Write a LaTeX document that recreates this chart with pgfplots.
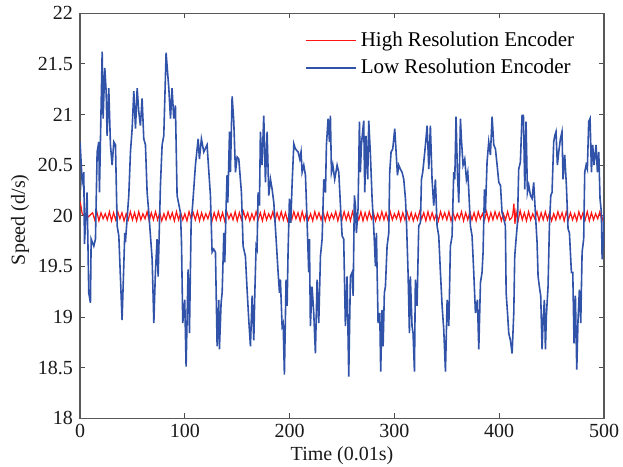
\documentclass[border=0pt]{standalone}
\usepackage{fontspec}
\setmainfont{Liberation Serif}
\usepackage{pgfplots}
\pgfplotsset{compat=1.18}
\definecolor{hired}{RGB}{255,20,20}
\definecolor{loblue}{RGB}{48,82,168}
\begin{document}
\fontsize{10}{12}\selectfont
\begin{tikzpicture}
\begin{axis}[
  scale only axis, width=262pt, height=202.5pt,
  xmin=0, xmax=500, ymin=18, ymax=22,
  xtick={0,100,200,300,400,500},
  ytick={18,18.5,19,19.5,20,20.5,21,21.5,22},
  yticklabels={18,18.5,19,19.5,20,20.5,21,21.5,22},
  /pgf/number format/assume math mode=true,
  tick align=inside, major tick length=2.5pt,
  tick style={black!70, line width=0.5pt},
  axis line style={black!65, line width=0.6pt},
  ticklabel style={font=\fontsize{10}{12}\selectfont, black!90},
  xticklabel style={yshift=0.5pt, inner xsep=2pt},
  label style={font=\fontsize{10}{12}\selectfont, black!90},
  xlabel={Time (0.01s)}, ylabel={Speed (d/s)},
  xlabel style={at={(rel axis cs:0.5,0)}, anchor=center, yshift=-18.5pt, inner sep=1pt},
  ylabel style={at={(rel axis cs:0,0.49)}, anchor=center, yshift=30pt, inner xsep=0pt, inner ysep=5.5pt},
  legend style={draw=none, fill=none, at={(0.963,0.975)}, anchor=north east,
    row sep=1pt, font=\fontsize{10.5}{12}\selectfont},
  legend cell align=left,
  legend image code/.code={\draw[#1] (0pt,0pt) -- (25pt,0pt);},
]
\addplot[hired, line width=0.6pt] coordinates {
(0,20.14)(1,20.09)(2,20.02)(4,20.00)(6,20.01)(8,19.99)(10,20.01)
(12,20.03)(14,19.96)(16,20.04)(18,19.95)(20,20.03)(22,19.97)(24,20.02)(26,19.96)(28,20.04)(30,19.95)
(32,20.03)(34,19.96)(36,20.04)(38,19.97)(40,20.03)(42,19.95)(44,20.02)(46,19.96)(48,20.04)(50,19.96)
(52,20.03)(54,19.95)(56,20.04)(58,19.96)(60,20.02)(62,19.97)(64,20.04)(66,19.95)(68,20.03)(70,19.96)
(72,20.04)(74,19.96)(76,20.03)(78,19.95)(80,20.02)(82,19.96)(84,20.04)(86,19.97)(88,20.03)(90,19.95)
(92,20.04)(94,19.96)(96,20.03)(98,19.96)(100,20.02)(102,19.95)(104,20.04)(106,19.97)(108,20.03)(110,19.96)
(112,20.04)(114,19.95)(116,20.03)(118,19.96)(120,20.02)(122,19.97)(124,20.04)(126,19.95)(128,20.03)(130,19.96)
(132,20.04)(134,19.96)(136,20.03)(138,19.95)(140,20.04)(142,19.97)(144,20.02)(146,19.96)(148,20.04)(150,19.95)
(152,20.03)(154,19.96)(156,20.04)(158,19.97)(160,20.03)(162,19.95)(164,20.02)(166,19.96)(168,20.04)(170,19.96)
(172,20.03)(174,19.95)(176,20.04)(178,19.96)(180,20.02)(182,19.97)(184,20.04)(186,19.95)(188,20.03)(190,19.96)
(192,20.04)(194,19.96)(196,20.03)(198,19.95)(200,20.02)(202,19.96)(204,20.04)(206,19.97)(208,20.03)(210,19.95)
(212,20.04)(214,19.96)(216,20.03)(218,19.96)(220,20.02)(222,19.95)(224,20.04)(226,19.97)(228,20.03)(230,19.96)
(232,20.04)(234,19.95)(236,20.03)(238,19.96)(240,20.02)(242,19.97)(244,20.04)(246,19.95)(248,20.03)(250,19.96)
(252,20.04)(254,19.96)(256,20.03)(258,19.95)(260,20.04)(262,19.97)(264,20.02)(266,19.96)(268,20.04)(270,19.95)
(272,20.03)(274,19.96)(276,20.04)(278,19.97)(280,20.03)(282,19.95)(284,20.02)(286,19.96)(288,20.04)(290,19.96)
(292,20.03)(294,19.95)(296,20.04)(298,19.96)(300,20.02)(302,19.97)(304,20.04)(306,19.95)(308,20.03)(310,19.96)
(312,20.04)(314,19.96)(316,20.03)(318,19.95)(320,20.02)(322,19.96)(324,20.04)(326,19.97)(328,20.03)(330,19.95)
(332,20.04)(334,19.96)(336,20.03)(338,19.96)(340,20.02)(342,19.95)(344,20.04)(346,19.97)(348,20.03)(350,19.96)
(352,20.04)(354,19.95)(356,20.03)(358,19.96)(360,20.02)(362,19.97)(364,20.04)(366,19.95)(368,20.03)(370,19.96)
(372,20.04)(374,19.96)(376,20.03)(378,19.95)(380,20.04)(382,19.97)(384,20.02)(386,19.96)(388,20.04)(390,19.95)
(392,20.03)(394,19.96)(396,20.04)(398,19.97)(400,20.03)(402,19.95)(404,20.02)(406,19.96)(408,20.04)(410,19.96)
(412,19.98)(413,20.02)(414,20.12)(415,19.92)(416,20.04)(418,19.95)(420,20.05)(422,19.96)(424,20.03)(426,19.95)
(428,20.04)(430,19.96)(432,20.02)(434,19.97)(436,20.04)(438,19.95)(440,20.03)(442,19.96)(444,20.04)(446,19.96)
(448,20.03)(450,19.95)(452,20.02)(454,19.96)(456,20.04)(458,19.97)(460,20.03)(462,19.95)(464,20.04)(466,19.96)
(468,20.03)(470,19.96)(472,20.02)(474,19.95)(476,20.04)(478,19.97)(480,20.03)(482,19.96)(484,20.04)(486,19.95)
(488,20.03)(490,19.96)(492,20.02)(494,19.97)(496,20.04)(498,19.95)(500,20.02)
};
\addlegendentry{High Resolution Encoder}
\addplot[loblue, line width=0.8pt] coordinates {
(0,20.73)(2.0,20.33)(3.6,20.43)(4.2,19.72)(6.7,20.23)(8.3,19.24)(9.9,19.14)(10.6,19.77)(13.1,19.70)(14.7,19.77)
(16.3,20.63)(17.9,20.73)(18.5,20.23)(21.1,21.62)(22.0,20.96)(23.6,21.46)(24.9,21.23)(25.8,20.79)(27.4,21.26)(29.0,20.70)
(30.6,20.50)(32.2,20.73)(33.8,20.70)(35.4,19.90)(37.0,19.80)(40.1,18.97)(42.7,19.83)(43.3,19.74)(46.5,20.20)(48.1,20.63)
(49.7,20.86)(51.3,21.23)(52.9,20.86)(54.5,21.26)(56.0,21.03)(57.6,20.89)(59.2,21.16)(60.8,20.76)(62.4,20.70)(64.0,20.23)
(65.6,20.03)(68.8,19.57)(70.4,18.94)(71.9,19.44)(73.5,19.77)(74.5,19.40)(76.7,20.30)(78.3,20.70)(79.9,20.79)(82.1,21.61)
(84.7,21.26)(86.3,20.96)(87.8,21.26)(89.4,20.96)(91.0,21.09)(92.6,20.20)(95.8,20.03)(96.8,19.74)(98.0,18.94)(99.9,19.17)
(101.2,18.51)(103.1,19.47)(104.4,18.84)(106.0,19.93)(107.6,20.13)(110.1,20.50)(112.7,20.76)(113.9,20.56)(115.8,20.76)(118.1,20.63)
(121.2,20.70)(124.4,20.20)(126.0,19.64)(127.6,19.67)
(129.2,19.64)(130.8,18.71)(132.4,19.17)(133.0,18.68)(134.6,19.14)(135.6,19.24)(137.2,19.83)(138.1,19.54)(139.4,20.10)(140.3,20.40)
(141.0,20.13)(142.6,20.83)(143.5,20.43)(145.1,21.18)(146.7,20.93)(148.3,20.43)(149.9,20.58)(151.5,20.56)(153.0,20.36)(154.0,20.23)
(155.6,19.70)(157.8,19.60)(159.4,19.27)(161.0,18.97)(162.6,18.71)(164.2,19.21)(165.8,18.77)(166.7,19.21)(168.0,19.70)(168.9,19.67)
(169.9,20.23)(171.2,20.10)(172.1,20.83)(173.7,20.50)(175.3,20.99)(176.9,20.33)(178.5,20.83)(180.1,20.20)(181.7,20.36)(183.3,20.26)
(184.9,20.13)(187.1,19.77)(189.0,19.44)(190.3,19.24)(191.2,19.37)(192.8,18.91)(193.8,18.94)(195.0,18.43)(196.6,19.37)(197.6,19.11)
(198.5,19.64)(199.8,20.17)(201.1,19.93)(202.4,20.33)(204.0,20.71)(205.5,20.66)(208.1,20.63)(209.7,20.56)(210.9,20.63)(211.9,20.43)
(213.5,20.50)(215.1,20.40)(216.7,19.93)(218.2,19.44)(218.9,19.77)(219.8,18.91)(221.4,19.30)(223.0,19.04)(224.6,18.64)(226.2,19.37)
(227.8,18.94)(229.4,19.60)(231.0,19.77)(232.6,20.36)(234.2,20.23)(235.1,20.70)(236.7,20.96)(238.0,20.73)(238.9,20.99)(239.9,20.43)
(241.2,20.50)(243.0,20.36)(245.3,20.50)(246.9,20.43)(248.5,20.10)(250.1,19.80)(251.6,19.77)
(253.2,18.91)(254.8,19.40)(256.4,18.41)(258.0,19.40)(259.6,19.44)(260.6,19.21)(261.8,20.20)(262.8,20.10)(263.7,19.83)(265.3,20.07)
(266.6,20.93)(267.5,20.43)(268.5,20.70)(270.7,20.94)(271.7,20.23)(272.9,20.79)(274.5,20.36)(275.5,20.94)(277.1,20.60)(278.7,20.17)
(280.3,19.87)(281.9,19.50)(282.8,19.83)(284.4,18.94)(286.0,19.04)(286.9,18.46)(288.2,19.07)(289.2,18.71)(290.4,19.24)(291.4,19.30)
(293.0,19.70)(294.6,19.83)(295.5,20.43)(296.8,20.63)(298.4,20.66)(300.3,20.86)(301.6,20.63)(302.9,20.40)(304.1,20.50)(305.7,20.46)
(307.3,20.43)(308.9,20.36)(310.5,20.17)(311.4,19.97)(313.0,19.44)(314.3,18.84)(315.2,19.40)(316.8,18.91)(317.8,18.84)(319.1,18.46)
(320.0,19.37)(321.6,19.11)(323.2,19.90)(324.8,19.93)(325.8,20.36)(327.0,20.43)(328.0,20.53)(329.6,20.70)(331.2,20.89)(332.8,20.46)
(334.3,20.89)(335.9,20.36)(337.5,20.10)(339.1,20.36)(340.7,19.90)(342.3,19.80)(343.9,19.44)(345.5,19.11)(347.1,18.87)(348.7,18.46)
(350.3,19.17)(351.9,18.91)(353.4,19.70)(355.0,19.80)(356.6,20.43)(357.6,20.36)(358.8,20.98)(360.1,20.43)(361.4,20.13)(363.0,20.96)
(363.9,20.76)(365.5,20.50)(367.1,20.56)(368.7,20.36)(370.0,20.43)(370.9,20.26)(372.5,19.90)(374.1,19.80)(375.7,19.44)(377.3,19.04)
(379.2,19.17)(380.5,18.68)(382.1,19.34)(383.6,19.44)(384.6,19.64)(385.9,20.26)(386.8,20.03)(388.4,20.53)(390.0,20.73)(391.6,20.60)
(393.2,20.98)(394.8,20.70)(396.4,20.66)(398.0,20.50)(399.6,20.33)(401.2,20.30)(402.7,20.03)(404.3,19.97)(405.9,19.90)(406.6,19.24)
(408.1,19.01)(409.1,18.84)(410.7,18.77)(412.3,18.64)(413.9,19.04)(414.8,19.60)(416.1,19.77)(417.4,19.93)(418.6,20.46)(420.2,20.53)
(421.8,20.99)(423.1,20.99)(424.4,20.26)(425.6,20.93)(426.9,20.23)(428.2,20.30)(429.8,20.20)(431.4,20.17)(432.9,20.33)(434.5,20.03)
(436.1,19.74)(437.1,19.40)(438.3,19.30)(439.6,19.21)(440.9,18.68)(441.9,18.97)(443.1,19.17)(444.1,18.68)(445.0,19.01)(446.6,19.30)
(447.9,19.90)(449.2,20.20)(450.4,20.23)(452.0,20.73)(453.0,20.79)(454.2,20.83)(455.5,20.50)(456.8,20.63)(458.4,20.76)(459.9,20.83)
(460.9,20.36)(462.5,20.60)(464.1,20.30)(465.7,19.87)(467.0,19.83)(468.9,19.44)(470.2,19.44)(471.4,18.74)(472.7,19.21)(474.0,18.48)
(475.2,18.97)(476.5,19.27)(477.8,18.94)(479.1,19.64)(480.6,19.77)(481.6,20.43)(482.9,20.50)(484.1,20.46)(485.4,20.93)(486.7,20.96)
(488.0,20.43)(489.2,20.70)(490.5,20.50)(492.4,20.70)(493.7,20.43)(495.0,20.63)(496.2,20.17)(497.5,20.03)(498.2,19.57)(499.4,19.77)
(500,20.03)
};
\addlegendentry{Low Resolution Encoder}
\end{axis}
\end{tikzpicture}
\end{document}
